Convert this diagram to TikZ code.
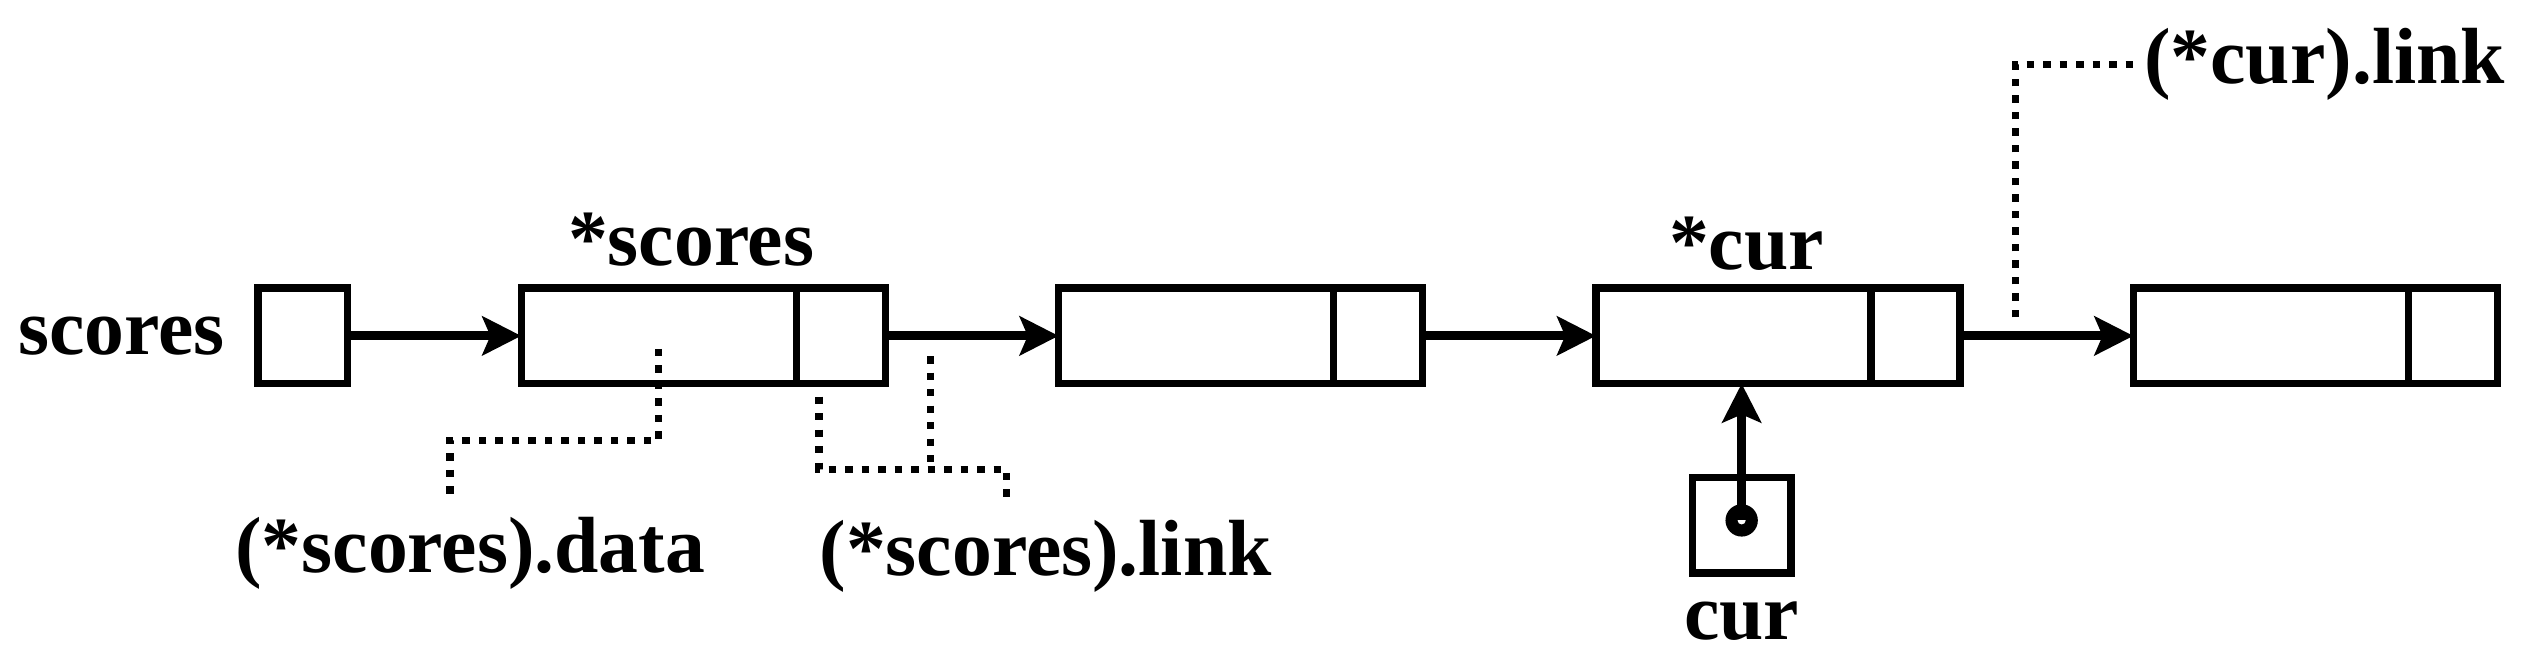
\documentclass[tikz,border=0pt]{standalone}
\usepackage{fontspec}
\setmainfont{Liberation Serif}
\usetikzlibrary{positioning,arrows.meta}

\tikzset{
  cell/.style={draw, line width=1.3pt, inner sep=0pt, outer sep=0pt, minimum height=0.59cm},
  datacell/.style={cell, minimum width=1.70cm},
  linkcell/.style={cell, minimum width=0.55cm},
  ptrcell/.style={cell, minimum width=0.55cm},
  lbl/.style={inner sep=0pt, font=\fontsize{14}{16}\selectfont\bfseries},
  ptrarrow/.style={-{Stealth[length=2.4mm, width=2.4mm, inset=0.5mm]}, line width=1.6pt},
  dotline/.style={line width=1.3pt, dash pattern=on 1.3pt off 1.6pt}
}

\begin{document}
\begin{tikzpicture}
\useasboundingbox (0,0) rectangle (15.68,-4.04);
%pointer scores:
\node[ptrcell] (ptr) at (1.87,-2.075) {};
\node[lbl, left=0.2cm of ptr] (ptrname) {scores};

%records:
\foreach \i/\x in {1/3.22, 2/6.54, 3/9.86, 4/13.18} {
	\node[datacell, anchor=west] (rec\i) at (\x,-2.075) {};
	\node[linkcell, right=0pt of rec\i] (link\i) {};
}
\node[lbl, above=0.13cm of rec1, xshift=0.2cm] (starscores) {*scores};
\node[lbl, above=0.1cm of rec3, xshift=0.08cm] (starcur) {*cur};

%arrows:
\draw[ptrarrow] (ptr) -- (rec1);
\foreach \a/\b in {1/2, 2/3, 3/4} {
	\draw[ptrarrow] (link\a) -- (rec\b);
}

%pointer cur:
\node[ptrcell, minimum width=0.61cm, below=0.58cm of rec3, xshift=0.05cm] (curbox) {};
\coordinate (curdot) at ([yshift=0.03cm]curbox.center);
\fill (curdot) circle (0.1cm);
\fill[white] (curdot) circle (0.025cm);
\draw[ptrarrow] (curdot) -- (curdot |- rec3.south);
\node[lbl, below=0.17cm of curbox] (curname) {cur};

%(*scores).data:
\coordinate (dA) at ([yshift=-0.08cm]rec1.center);
\coordinate (dC) at (2.78,-2.72);
\coordinate (dD) at (2.78,-3.07);
\draw[dotline] (dA) |- (dC) -- (dD);
\node[lbl, below=0.12cm of dD, xshift=0.125cm] (dataname) {(*scores).data};

%(*scores).link:
\coordinate (lA) at (5.06,-2.45);
\coordinate (lB) at (6.22,-2.90);
\coordinate (lC) at (6.22,-3.09);
\coordinate (lM) at (5.75,-2.20);
\draw[dotline] (lA) |- (lB) -- (lC);
\draw[dotline] (lM) -- (lM |- lB);
\node[lbl, below=0.12cm of lC, xshift=0.24cm] (linkname) {(*scores).link};

%(*cur).link:
\coordinate (cA) at (12.45,-1.96);
\coordinate (cB) at (13.18,-0.40);
\draw[dotline] (cA) |- (cB);
\node[lbl, right=0.06cm of cB] (curlinkname) {(*cur).link};
\end{tikzpicture}
\end{document}
